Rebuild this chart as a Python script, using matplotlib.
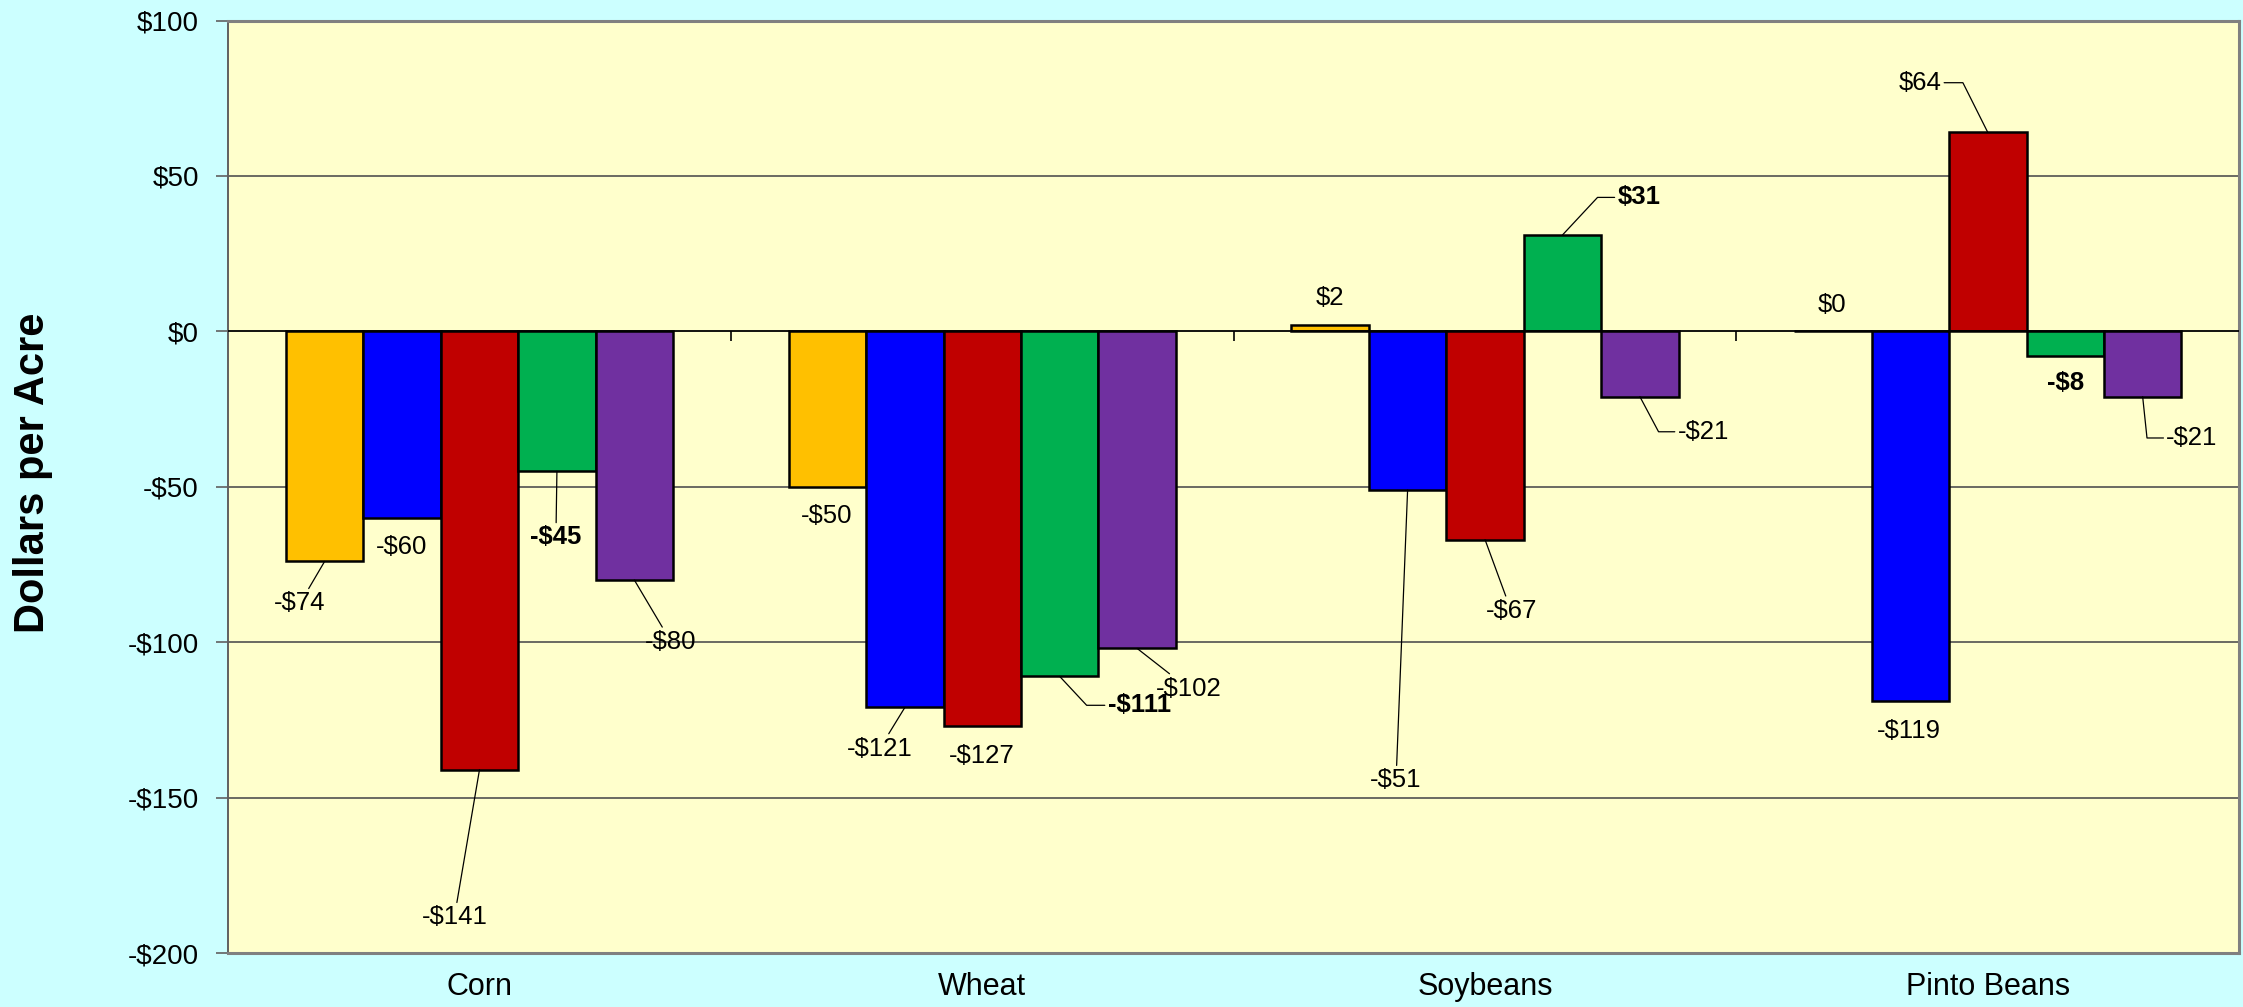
import numpy as np
import matplotlib
matplotlib.use('Agg')
import matplotlib.pyplot as plt
from matplotlib.ticker import FuncFormatter

plt.rcParams['font.family'] = ['Liberation Sans', 'DejaVu Sans']

categories = ['Corn', 'Wheat', 'Soybeans', 'Pinto Beans']
series_colors = ['#FFC000', '#0000FF', '#C00000', '#00B050', '#7030A0']

# dollars per acre, one list per series (order: gold, blue, red, green, purple)
gold_vals = [-74, -50, 2, 0]
blue_vals = [-60, -121, -51, -119]
red_vals = [-141, -127, -67, 64]
green_vals = [-45, -111, 31, -8]
purple_vals = [-80, -102, -21, -21]
series = [gold_vals, blue_vals, red_vals, green_vals, purple_vals]
bold_series = 3  # green labels are bold

# label placement: (dx from bar centre, y in dollars, leader kind)
# kind: None = no line, 'line' = straight, number = elbow angle at bar end
label_pos = {
    (0, 0): (-0.049, -87.5, 'line'), (0, 1): (-0.001, -69.3, None),
    (0, 2): (-0.050, -188.5, 'line'), (0, 3): (-0.002, -66.3, 'line'),
    (0, 4): (0.073, -99.9, 'line'),
    (1, 0): (-0.001, -59.4, None), (1, 1): (-0.050, -134.2, 'line'),
    (1, 2): (-0.002, -136.7, None), (1, 3): (0.158, -120.3, -47),
    (1, 4): (0.102, -114.9, 'line'),
    (2, 0): (0.000, 10.7, None), (2, 1): (-0.023, -144.4, 'line'),
    (2, 2): (0.052, -89.9, 'line'), (2, 3): (0.152, 43.1, 47),
    (2, 4): (0.126, -32.3, -62),
    (3, 0): (-0.001, 8.5, None), (3, 1): (-0.002, -128.7, None),
    (3, 2): (-0.135, 80.0, 116.6), (3, 3): (0.000, -16.7, None),
    (3, 4): (0.098, -34.3, -84),
}

fig = plt.figure(figsize=(22.43, 10.07), dpi=100, facecolor='#CCFFFF')
ax = fig.add_axes([0.1017, 0.0536, 0.8966, 0.926])
ax.set_facecolor('#FFFFCC')

x = np.arange(len(categories))
n = len(series)
width = 0.77 / n
offsets = (np.arange(n) - (n - 1) / 2) * width

for s, vals in enumerate(series):
    ax.bar(x + offsets[s], vals, width=width, color=series_colors[s],
           edgecolor='black', linewidth=1.8, zorder=3)

def money(v):
    return '-${}'.format(abs(int(v))) if v < 0 else '${}'.format(int(v))

for s, vals in enumerate(series):
    for c, v in enumerate(vals):
        dx, ty, kind = label_pos[(c, s)]
        bx = x[c] + offsets[s]
        tx = bx + dx
        weight = 'bold' if s == bold_series else 'normal'
        if kind is None:
            ax.text(tx, ty, money(v), ha='center', va='center', fontsize=18.5,
                    fontweight=weight, zorder=5)
        elif kind == 'line':
            ax.annotate(money(v), xy=(bx, v), xytext=(tx, ty), ha='center',
                        va='center', fontsize=18.5, fontweight=weight, zorder=5,
                        arrowprops=dict(arrowstyle='-', lw=0.9, color='black',
                                        shrinkA=0, shrinkB=0))
        else:
            rx = 1 if kind > 90 else 0
            ax.annotate(money(v), xy=(bx, v), xytext=(tx, ty), ha='center',
                        va='center', fontsize=18.5, fontweight=weight, zorder=5,
                        arrowprops=dict(arrowstyle='-', lw=0.9, color='black',
                                        shrinkA=0, shrinkB=0, relpos=(rx, 0.5),
                                        connectionstyle='angle,angleA=0,angleB={},rad=0'.format(kind)))

ax.set_xlim(-0.5, len(categories) - 0.5)
ax.set_ylim(-200, 100)
ax.set_yticks(np.arange(-200, 101, 50))
ax.yaxis.set_major_formatter(FuncFormatter(lambda v, p: money(v)))
ax.tick_params(axis='y', length=9, width=1.2, pad=12, labelsize=20,
               direction='out', color='#606060')
ax.set_xticks(x)
ax.set_xticklabels(categories, fontsize=22)
ax.tick_params(axis='x', length=0, pad=14)

for g in np.arange(-150, 100, 50):
    if g != 0:
        ax.axhline(g, color='#505050', lw=1.2, zorder=1)
ax.axhline(0, color='black', lw=1.3, zorder=4)
ax.vlines(x[:-1] + 0.5, -3, 0, color='black', lw=1.2, zorder=4)

ax.spines['left'].set_color('#606060')
ax.spines['left'].set_linewidth(1.4)
for side in ['top', 'right', 'bottom']:
    ax.spines[side].set_color('#808080')
    ax.spines[side].set_linewidth(2.2)

fig.text(33 / 2243, 1 - 473 / 1007, 'Dollars per Acre', rotation=90,
         fontsize=30, fontweight='bold', ha='center', va='center')

fig.savefig('out.png', dpi=100, facecolor=fig.get_facecolor())
